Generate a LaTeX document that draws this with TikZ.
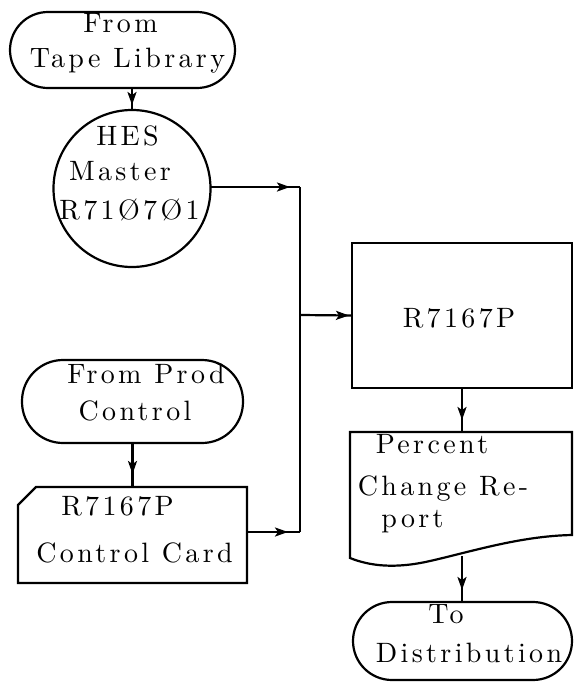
\documentclass[tikz,border=0pt]{standalone}
\usepackage{fontspec}
\newfontfamily\tw{lmroman10-regular.otf}[LetterSpace=12]
\usetikzlibrary{arrows.meta,decorations.markings}
\begin{document}
\begin{tikzpicture}[x=1pt,y=-1pt,
  shapeline/.style={draw=black, line width=2.2pt},
  term/.style={shapeline, rectangle, rounded corners=#1, inner sep=0pt, outer sep=0pt},
  lbl/.style={anchor=base, inner sep=0pt, outer sep=0pt, font=\tw\fontsize{28}{32}\selectfont},
  conn/.style={line width=2.2pt},
  tipat/.style={conn, postaction={decorate}, decoration={markings, mark=at position #1 with {\arrow{Stealth[length=13pt,width=9pt,inset=3pt]}}}}
]
\useasboundingbox (0,0) rectangle (574,683);

% shapes
\node[term=38pt, minimum width=225pt, minimum height=76pt] (tape) at (122.5,50) {};
\node[shapeline, circle, minimum size=157pt, inner sep=0pt, outer sep=0pt] (hes) at (132,188.5) {};
\node[shapeline, rectangle, minimum width=220pt, minimum height=145pt, inner sep=0pt, outer sep=0pt] (prog) at (462,315.5) {};
\node[term=41pt, minimum width=221pt, minimum height=83pt] (prod) at (132.5,401.5) {};
\node[inner sep=0pt, outer sep=0pt, minimum width=229pt, minimum height=96pt] (card) at (132.5,535) {};
\draw[shapeline] ([yshift=-18pt]card.north west) -- ([xshift=18pt]card.north west) -- (card.north east) -- (card.south east) -- (card.south west) -- cycle;
\node[inner sep=0pt, outer sep=0pt, minimum width=222pt, minimum height=124pt] (doc) at (462,494) {};
\draw[shapeline] (350,558) -- (350,432) -- (572,432) -- (572,535)
  .. controls (520,536) and (470,552) .. (430,561)
  .. controls (395,569) and (370,566) .. (350,558) -- cycle;
\node[term=39pt, minimum width=219pt, minimum height=78pt] (dist) at (462.5,641) {};

% junctions
\coordinate (j1) at (300,187);
\coordinate (j2) at (300,532);
\coordinate (j3) at (300,315);

% connectors
\draw[tipat=-5pt] (hes.north |- tape.south) -- (hes.north);
\draw[tipat=-10pt] (hes.east |- j1) -- (j1);
\draw[conn] (j1) -- (j2);
\draw[tipat=-12pt] (card.east |- j2) -- (j2);
\draw[tipat=-3pt] (j3) -- (prog.west);
\draw[tipat=-13pt] (prod.south -| card.north) -- (card.north);
\draw[tipat=-12pt] (prog.south) -- (prog.south |- doc.north);
\draw[tipat=-12pt] (doc.south) -- (doc.south |- dist.north);

% texts
\node[lbl] (ta) at (120.5,32) {From};
\node[lbl] (tb) at (127.5,67) {Tape Library};
\node[lbl] (ha) at (127.5,145) {HES};
\node[lbl] (hb) at (120,180) {Master};
\node[lbl] (hc) at (129.5,219) {R71Ø7Ø1};
\node[lbl] (pa) at (459,327) {R7167P};
\node[lbl] (da) at (432,453) {Percent};
\node[lbl] (db) at (443,495) {Change Re-};
\node[lbl] (dc) at (412.5,527) {port};
\node[lbl] (ea) at (446,623) {To};
\node[lbl] (eb) at (469,662) {Distribution};
\node[lbl] (fa) at (146,383) {From Prod};
\node[lbl] (fb) at (135,420) {Control};
\node[lbl] (ca) at (117.5,515) {R7167P};
\node[lbl] (cb) at (134.5,562) {Control Card};
\end{tikzpicture}
\end{document}
